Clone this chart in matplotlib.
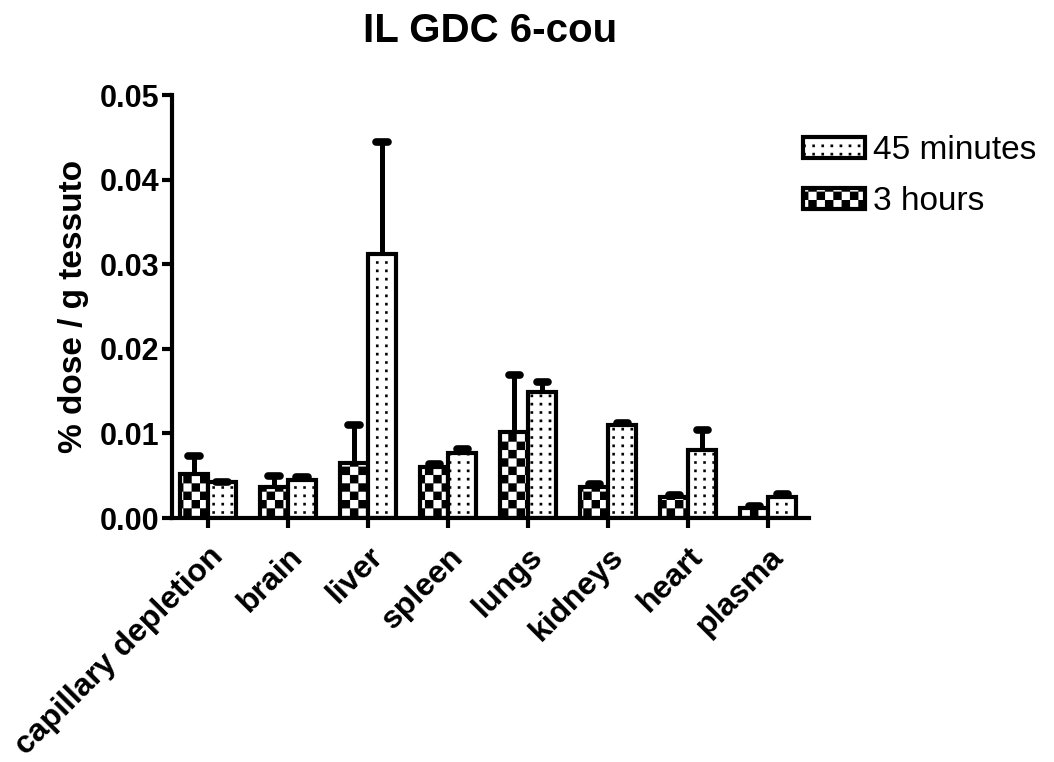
import warnings
import numpy as np
import matplotlib
matplotlib.use("Agg")
import matplotlib.pyplot as plt
import matplotlib.hatch as mhatch
from matplotlib.path import Path

warnings.filterwarnings("ignore")

# data
categories = ["capillary depletion", "brain", "liver", "spleen",
              "lungs", "kidneys", "heart", "plasma"]
hours3 = [0.0052, 0.0037, 0.0065, 0.0060, 0.0102, 0.0037, 0.0025, 0.0012]
hours3_err = [0.0021, 0.0013, 0.0045, 0.0004, 0.0067, 0.0003, 0.0002, 0.0002]
min45 = [0.0042, 0.0045, 0.0312, 0.0077, 0.0149, 0.0110, 0.0080, 0.0025]
min45_err = [0.0001, 0.0003, 0.0132, 0.0005, 0.0012, 0.0002, 0.0024, 0.0003]
yticks = [0.00, 0.01, 0.02, 0.03, 0.04, 0.05]


# custom hatches: 'c' = checkerboard, 'd' = sparse dots
class CheckerHatch(mhatch.HatchPatternBase):
    def __init__(self, hatch, density):
        self.n = 12 if "c" in hatch else 0
        self.num_vertices = (self.n * self.n // 2) * 5

    def set_vertices_and_codes(self, vertices, codes):
        s = 1.0 / self.n
        k = 0
        for i in range(self.n):
            for j in range(self.n):
                if (i + j) % 2 == 0:
                    x0, y0 = i * s, j * s
                    vertices[k:k + 5] = [(x0, y0), (x0 + s, y0), (x0 + s, y0 + s),
                                         (x0, y0 + s), (x0, y0)]
                    codes[k:k + 5] = [Path.MOVETO, Path.LINETO, Path.LINETO,
                                      Path.LINETO, Path.CLOSEPOLY]
                    k += 5


class DotHatch(mhatch.HatchPatternBase):
    def __init__(self, hatch, density):
        self.nx, self.ny = (11, 12) if "d" in hatch else (0, 0)
        self.num_vertices = self.nx * self.ny * 5

    def set_vertices_and_codes(self, vertices, codes):
        d = 0.025
        k = 0
        for i in range(self.nx):
            for j in range(self.ny):
                x0 = (i + 0.5) / self.nx - d / 2
                y0 = (j + 0.5) / self.ny - d / 2
                vertices[k:k + 5] = [(x0, y0), (x0 + d, y0), (x0 + d, y0 + d),
                                     (x0, y0 + d), (x0, y0)]
                codes[k:k + 5] = [Path.MOVETO, Path.LINETO, Path.LINETO,
                                  Path.LINETO, Path.CLOSEPOLY]
                k += 5


mhatch._hatch_types.append(CheckerHatch)
mhatch._hatch_types.append(DotHatch)

plt.rcParams["font.family"] = ["Liberation Sans", "DejaVu Sans"]
plt.rcParams["hatch.linewidth"] = 0.1
plt.rcParams["hatch.color"] = "black"

fig = plt.figure(figsize=(10.54, 7.62), dpi=100)
ax = fig.add_axes([0.1632, 0.3202, 0.7676 - 0.1632, 0.8753 - 0.3202])

x = np.arange(len(categories))
w = 0.35
b3 = ax.bar(x - w / 2, hours3, w, facecolor="white", edgecolor="black",
            linewidth=3, hatch="c", label="3 hours", zorder=2)
b45 = ax.bar(x + w / 2, min45, w, facecolor="white", edgecolor="black",
             linewidth=3, hatch="d", label="45 minutes", zorder=2)

# upper-only error bars with rounded caps
for xs, vals, errs in [(x - w / 2, hours3, hours3_err), (x + w / 2, min45, min45_err)]:
    tops = np.array(vals) + np.array(errs)
    ax.vlines(xs, vals, tops, color="black", linewidth=3.6, zorder=3)
    ax.hlines(tops, xs - 0.07, xs + 0.07, color="black", linewidth=5.5,
              capstyle="round", zorder=3)

ax.set_xlim(-0.45, 7.51)
ax.set_ylim(0, 0.05)
ax.set_yticks(yticks)
ax.set_yticklabels([f"{v:.2f}" for v in yticks], fontsize=22, fontweight="bold")
ax.set_xticks(x)
ax.set_xticklabels(categories, fontsize=23, fontweight="bold", rotation=45,
                   ha="right", va="top", rotation_mode="anchor")
ax.set_ylabel("% dose / g tessuto", fontsize=24, fontweight="bold", labelpad=8)
ax.set_title("IL GDC 6-cou", fontsize=29, fontweight="bold", pad=38)

for side in ["top", "right"]:
    ax.spines[side].set_visible(False)
for side in ["left", "bottom"]:
    ax.spines[side].set_linewidth(3)
ax.tick_params(axis="both", width=3, length=7, direction="out")
ax.tick_params(axis="x", pad=10)
ax.tick_params(axis="y", pad=2)

fig.legend(handles=[b45, b3], labels=["45 minutes", "3 hours"],
           loc="upper left", bbox_to_anchor=(0.762, 0.823), frameon=False,
           fontsize=24, handlelength=1.85, handleheight=0.6, handletextpad=0.25,
           labelspacing=0.6, borderpad=0, borderaxespad=0)

fig.savefig("out.png", dpi=100)
